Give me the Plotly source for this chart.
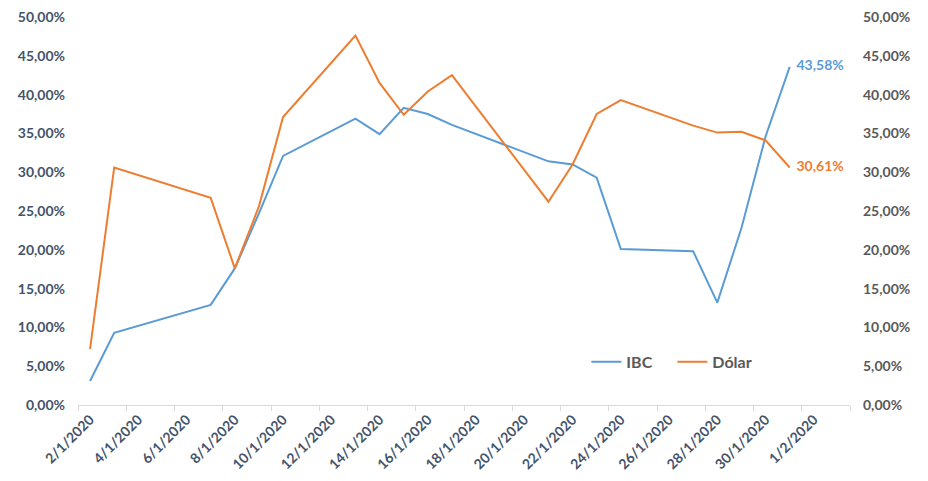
import plotly.graph_objects as go

dates = ["2020-01-02", "2020-01-03", "2020-01-07", "2020-01-08", "2020-01-09",
         "2020-01-10", "2020-01-13", "2020-01-14", "2020-01-15", "2020-01-16",
         "2020-01-17", "2020-01-21", "2020-01-22", "2020-01-23", "2020-01-24",
         "2020-01-27", "2020-01-28", "2020-01-29", "2020-01-30", "2020-01-31"]
ibc = [3.1, 9.3, 12.9, 17.6, 24.7, 32.1, 36.9, 34.9, 38.3, 37.5,
       36.1, 31.4, 31.0, 29.3, 20.1, 19.8, 13.2, 22.8, 34.6, 43.58]
dolar = [7.2, 30.6, 26.7, 17.6, 25.6, 37.1, 47.6, 41.5, 37.4, 40.4,
         42.5, 26.2, 31.0, 37.5, 39.3, 36.0, 35.1, 35.2, 34.1, 30.61]

tick_dates = ["2020-01-02", "2020-01-04", "2020-01-06", "2020-01-08", "2020-01-10",
              "2020-01-12", "2020-01-14", "2020-01-16", "2020-01-18", "2020-01-20",
              "2020-01-22", "2020-01-24", "2020-01-26", "2020-01-28", "2020-01-30",
              "2020-02-01"]
tick_labels = ["2/1/2020", "4/1/2020", "6/1/2020", "8/1/2020", "10/1/2020",
               "12/1/2020", "14/1/2020", "16/1/2020", "18/1/2020", "20/1/2020",
               "22/1/2020", "24/1/2020", "26/1/2020", "28/1/2020", "30/1/2020",
               "1/2/2020"]
y_ticks = [0, 5, 10, 15, 20, 25, 30, 35, 40, 45, 50]
y_labels = ["0,00%", "5,00%", "10,00%", "15,00%", "20,00%", "25,00%",
            "30,00%", "35,00%", "40,00%", "45,00%", "50,00%"]

BLUE = "#5B9BD5"
ORANGE = "#ED7D31"
FONT = "Lato"


def last_label(vals):
    return [""] * (len(vals) - 1) + ["  " + f"{vals[-1]:.2f}".replace(".", ",") + "%"]


fig = go.Figure()
fig.add_trace(go.Scatter(
    x=dates, y=ibc, name="IBC", mode="lines+text",
    line=dict(color=BLUE, width=2),
    text=last_label(ibc), textposition="middle right",
    textfont=dict(family=FONT, size=14, color=BLUE, weight=700),
    cliponaxis=False,
))
fig.add_trace(go.Scatter(
    x=dates, y=dolar, name="Dólar", mode="lines+text", yaxis="y2",
    line=dict(color=ORANGE, width=2),
    text=last_label(dolar), textposition="middle right",
    textfont=dict(family=FONT, size=14, color=ORANGE, weight=700),
    cliponaxis=False,
))

fig.update_layout(
    width=928, height=481,
    margin=dict(l=70, r=86, t=9, b=84, autoexpand=False),
    paper_bgcolor="white", plot_bgcolor="white",
    separators=",.",
    font=dict(family=FONT),
    showlegend=True,
    legend=dict(
        orientation="h", x=0.6585, y=0.111, xanchor="left", yanchor="middle",
        font=dict(family=FONT, size=16, color="#595959", weight=700),
        bgcolor="rgba(0,0,0,0)", entrywidth=41, itemwidth=30,
    ),
    xaxis=dict(
        type="date", automargin=False,
        range=["2020-01-01 12:00", "2020-02-02 12:00"],
        tickmode="array", tickvals=tick_dates, ticktext=tick_labels,
        tickangle=-45, ticks="", ticklabeloverflow="allow",
        tickfont=dict(family=FONT, size=14, color="#44546A", weight=700),
        showgrid=False, zeroline=False,
        showline=True, linecolor="#D9D9D9", linewidth=1,
        minor=dict(ticks="outside", ticklen=5, tickcolor="#D9D9D9",
                   tick0="2020-01-01 12:00", dtick=2 * 86400000, showgrid=False),
    ),
    yaxis=dict(
        range=[0, 50], tickmode="array", tickvals=y_ticks, ticktext=y_labels,
        automargin=False, ticklabeloverflow="allow",
        showgrid=False, zeroline=False, showline=False,
        tickfont=dict(family=FONT, size=14, color="#44546A", weight=700),
        ticklabelstandoff=12,
    ),
    yaxis2=dict(
        range=[0, 50], tickmode="array", tickvals=y_ticks, ticktext=y_labels,
        automargin=False, ticklabeloverflow="allow",
        overlaying="y", side="right",
        showgrid=False, zeroline=False, showline=False,
        tickfont=dict(family=FONT, size=14, color="#595959", weight=700),
        ticklabelstandoff=12,
    ),
)

fig.write_html("out.html")
